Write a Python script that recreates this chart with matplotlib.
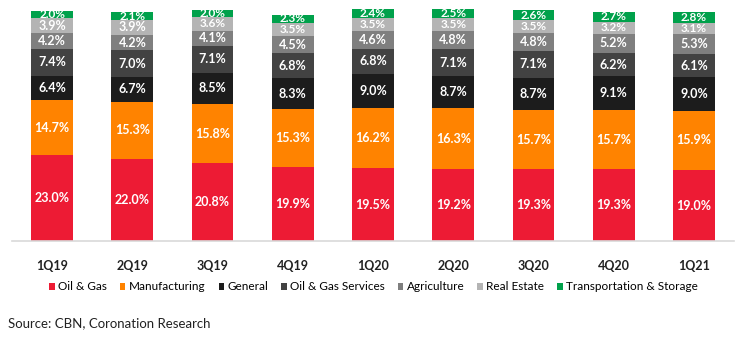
import matplotlib.pyplot as plt
import numpy as np

plt.rcParams['font.family'] = ['Lato', 'DejaVu Sans']

quarters = ['1Q19', '2Q19', '3Q19', '4Q19', '1Q20', '2Q20', '3Q20', '4Q20', '1Q21']
oil_gas = [23.0, 22.0, 20.8, 19.9, 19.5, 19.2, 19.3, 19.3, 19.0]
manufacturing = [14.7, 15.3, 15.8, 15.3, 16.2, 16.3, 15.7, 15.7, 15.9]
general = [6.4, 6.7, 8.5, 8.3, 9.0, 8.7, 8.7, 9.1, 9.0]
oil_gas_services = [7.4, 7.0, 7.1, 6.8, 6.8, 7.1, 7.1, 6.2, 6.1]
agriculture = [4.2, 4.2, 4.1, 4.5, 4.6, 4.8, 4.8, 5.2, 5.3]
real_estate = [3.9, 3.9, 3.6, 3.5, 3.5, 3.5, 3.5, 3.2, 3.1]
transport = [2.0, 2.1, 2.0, 2.3, 2.4, 2.5, 2.6, 2.7, 2.8]

series = [
    ('Oil & Gas', oil_gas, '#ED1B34'),
    ('Manufacturing', manufacturing, '#FF8300'),
    ('General', general, '#1C1C1C'),
    ('Oil & Gas Services', oil_gas_services, '#424242'),
    ('Agriculture', agriculture, '#7F7F7F'),
    ('Real Estate', real_estate, '#B4B4B4'),
    ('Transportation & Storage', transport, '#00A14B'),
]

fig = plt.figure(figsize=(7.4, 3.39), dpi=100)
ax = fig.add_axes([12 / 740, 1 - 241 / 339, 722 / 740, 235 / 339])

x = np.arange(len(quarters))
bottom = np.zeros(len(quarters))
for name, vals, color in series:
    vals = np.array(vals)
    ax.bar(x, vals, 0.52, bottom=bottom, color=color, label=name)
    for xi, b, v in zip(x, bottom, vals):
        # small top segments get a slightly smaller label
        fs = 8.5 if v < 3.8 else 9
        ax.text(xi, b + v / 2, f'{v:.1f}%', ha='center', va='center',
                color='white', fontsize=fs, fontweight='bold')
    bottom += vals

ax.set_xlim(-0.5, len(quarters) - 0.5)
ax.set_ylim(0, 62.9)
ax.set_xticks(x)
ax.set_xticklabels(quarters, fontsize=9, fontweight='bold', color='#222222')
ax.tick_params(axis='x', length=0, pad=14)
ax.set_yticks([])
for s in ['top', 'right', 'left']:
    ax.spines[s].set_visible(False)
ax.spines['bottom'].set_color('#D9D9D9')
ax.spines['bottom'].set_linewidth(1.2)

handles, labels = ax.get_legend_handles_labels()
fig.legend(handles, labels, loc='center', bbox_to_anchor=(0.505, 1 - 287 / 339),
           ncol=7, frameon=False, fontsize=8.5, handlelength=0.45, handleheight=0.55,
           handletextpad=0.3, columnspacing=1.1)

fig.text(8 / 740, 1 - 323 / 339, 'Source: CBN, Coronation Research',
         fontsize=9.5, va='center', ha='left', color='#222222')

plt.savefig('out.png', dpi=100)
